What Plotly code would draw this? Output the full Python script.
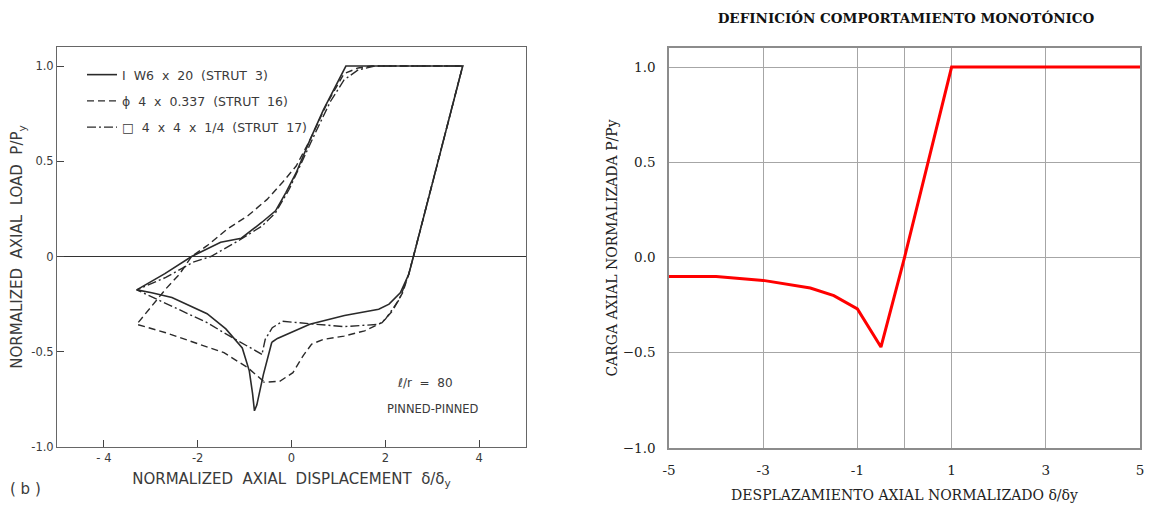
import plotly.graph_objects as go

W, H = 1149, 506

# ---------------- Left panel data (scanned hysteresis curves) ----------------
strut3_x = [-0.42, -0.60, -0.74, -0.79, -0.83, -0.90, -1.05, -1.40, -1.80, -2.55, -2.98, -3.30,
            -2.70, -2.13, -1.51, -1.07, -0.63, -0.34, -0.12, 0.10, 0.39, 0.68, 1.16, 3.65,
            2.60, 2.50, 2.32, 2.08, 1.86, 1.13, 0.39, -0.30, -0.42]
strut3_y = [-0.45, -0.62, -0.78, -0.81, -0.72, -0.60, -0.48, -0.38, -0.30, -0.215, -0.19, -0.175,
            -0.09, 0.00, 0.075, 0.096, 0.18, 0.24, 0.336, 0.44, 0.61, 0.77, 1.00, 1.00,
            0.00, -0.093, -0.19, -0.25, -0.277, -0.31, -0.356, -0.43, -0.45]

strut16_x = [-0.60, -0.93, -1.44, -2.10, -2.68, -3.30, -3.05, -2.68, -2.39, -2.13, -1.80, -1.37,
             -0.93, -0.52, -0.19, 0.10, 0.39, 0.76, 1.12, 1.42, 1.71, 3.65,
             2.60, 2.50, 2.37, 2.15, 1.93, 1.56, 1.12, 0.68, 0.43, 0.25, 0.03, -0.25, -0.60]
strut16_y = [-0.654, -0.584, -0.505, -0.45, -0.40, -0.356, -0.28, -0.17, -0.093, 0.00, 0.057, 0.144,
             0.214, 0.30, 0.39, 0.475, 0.61, 0.805, 0.96, 0.99, 1.00, 1.00,
             0.00, -0.093, -0.19, -0.286, -0.347, -0.39, -0.418, -0.435, -0.46, -0.52, -0.61, -0.655, -0.66]

strut17_x = [-0.63, -1.07, -1.44, -1.80, -2.54, -3.30, -2.68, -2.10, -1.72, -1.07, -0.63, -0.34,
             -0.05, 0.24, 0.54, 0.83, 1.12, 1.42, 1.78, 3.65,
             2.60, 2.50, 2.30, 2.00, 1.86, 1.12, 0.54, 0.10, -0.19, -0.41, -0.56, -0.63]
strut17_y = [-0.514, -0.453, -0.40, -0.347, -0.26, -0.175, -0.11, -0.03, 0.00, 0.092, 0.16, 0.23,
             0.353, 0.51, 0.666, 0.814, 0.927, 0.98, 1.00, 1.00,
             0.00, -0.093, -0.225, -0.33, -0.356, -0.368, -0.356, -0.344, -0.34, -0.374, -0.435, -0.514]

left_xticks = [-4, -2, 0, 2, 4]
left_xticktext = ["- 4", "-2", "0", "2", "4"]
left_yticks = [-1.0, -0.5, 0, 0.5, 1.0]
left_yticktext = ["-1.0", "-0.5", "0", "0.5", "1.0"]

legend_names = ["I  W6  x  20  (STRUT  3)", "ϕ  4  x  0.337  (STRUT  16)", "□  4  x  4  x  1/4  (STRUT  17)"]

# ---------------- Right panel data (monotonic definition) ----------------
mono_x = [-5, -4, -3, -2, -1.5, -1, -0.5, 0, 1, 5]
mono_y = [-0.10, -0.10, -0.12, -0.16, -0.20, -0.27, -0.47, 0.0, 1.0, 1.0]

right_xticks = [-5, -3, -1, 0, 1, 3, 5]
right_xticktext = ["-5", "-3", "-1", "", "1", "3", "5"]
right_yticks = [-1.0, -0.5, 0.0, 0.5, 1.0]

# ---------------- Figure ----------------
fig = go.Figure()

ink = "#2a2a2a"
fig.add_trace(go.Scatter(x=strut3_x, y=strut3_y, mode="lines", name=legend_names[0],
                         line=dict(color=ink, width=1.6, dash="solid"),
                         xaxis="x", yaxis="y", legendgroup="a"))
fig.add_trace(go.Scatter(x=strut16_x, y=strut16_y, mode="lines", name=legend_names[1],
                         line=dict(color=ink, width=1.4, dash="7px,4px"),
                         xaxis="x", yaxis="y", legendgroup="b"))
fig.add_trace(go.Scatter(x=strut17_x, y=strut17_y, mode="lines", name=legend_names[2],
                         line=dict(color=ink, width=1.4, dash="9px,3px,2px,3px"),
                         xaxis="x", yaxis="y", legendgroup="c"))

fig.add_trace(go.Scatter(x=mono_x, y=mono_y, mode="lines", showlegend=False,
                         line=dict(color="#ff0000", width=3),
                         xaxis="x2", yaxis="y2"))

sans = "DejaVu Sans, Liberation Sans, sans-serif"
serif = "DejaVu Serif, Liberation Serif, serif"
gtxt = "#3a3a3a"

ydom1 = [1 - 447 / H, 1 - 47 / H]
ydom2 = [1 - 448 / H, 1 - 48 / H]

fig.update_layout(
    width=W, height=H,
    margin=dict(l=0, r=0, t=0, b=0, autoexpand=False),
    paper_bgcolor="white", plot_bgcolor="white",
    showlegend=True,
    legend=dict(x=82 / W, y=1 - 60 / H, xanchor="left", yanchor="top",
                bgcolor="rgba(0,0,0,0)", font=dict(family=sans, size=12.5, color=gtxt),
                tracegroupgap=7, itemwidth=30),
    xaxis=dict(domain=[57 / W, 526 / W], range=[-5, 5], tickvals=left_xticks,
               ticktext=left_xticktext, ticks="inside", ticklen=7, tickcolor="#444",
               showgrid=False, zeroline=False, showline=True, linecolor="#666", linewidth=1,
               mirror=True, tickfont=dict(family=sans, size=11.5, color=gtxt), automargin=False,
               title=dict(text="NORMALIZED  AXIAL  DISPLACEMENT  δ/δ<sub>y</sub>",
                          font=dict(family=sans, size=15, color=gtxt), standoff=9),
               anchor="y", fixedrange=True),
    yaxis=dict(domain=ydom1, range=[-1, 1.1], tickvals=left_yticks, ticktext=left_yticktext,
               ticks="inside", ticklen=7, tickcolor="#444",
               showgrid=False, zeroline=True, zerolinecolor="#333", zerolinewidth=1,
               showline=True, linecolor="#666", linewidth=1, mirror=True, automargin=False,
               tickfont=dict(family=sans, size=11.5, color=gtxt),
               title=dict(text="NORMALIZED  AXIAL  LOAD  P/P<sub>y</sub>",
                          font=dict(family=sans, size=15, color=gtxt), standoff=4),
               anchor="x", fixedrange=True),
    xaxis2=dict(domain=[669 / W, 1140 / W], range=[-5, 5], tickvals=right_xticks,
                ticktext=right_xticktext, ticks="", showgrid=True, gridcolor="#a6a6a6",
                gridwidth=1, zeroline=False, showline=True, linecolor="#8c8c8c", linewidth=1.5,
                mirror=True, ticklabelstandoff=9, automargin=False,
                tickfont=dict(family=serif, size=13.5, color="#222"),
                title=dict(text="DESPLAZAMIENTO AXIAL NORMALIZADO δ/δy",
                           font=dict(family=serif, size=14, color="#222"), standoff=13),
                anchor="y2", fixedrange=True),
    yaxis2=dict(domain=ydom2, range=[-1, 1.1], tickvals=right_yticks, tickformat=".1f",
                ticks="", showgrid=True, gridcolor="#a6a6a6", gridwidth=1,
                zeroline=False, showline=True, linecolor="#8c8c8c", linewidth=1.5,
                mirror=True, ticklabelstandoff=9, automargin=False,
                tickfont=dict(family=serif, size=13.5, color="#222"),
                title=dict(text="CARGA AXIAL NORMALIZADA P/Py",
                           font=dict(family=serif, size=14, color="#222"), standoff=2),
                anchor="x2", fixedrange=True),
    title=dict(text="<b>DEFINICIÓN COMPORTAMIENTO MONOTÓNICO</b>", automargin=False,
               x=906 / W, xanchor="center", y=1 - 18 / H, yanchor="middle",
               font=dict(family=serif, size=13.5, color="#111")),
)

fig.add_annotation(text="ℓ/r  =  80", x=395 / W, y=1 - 383 / H, xref="paper", yref="paper",
                   xanchor="left", yanchor="middle", showarrow=False,
                   font=dict(family=sans, size=12, color=gtxt))
fig.add_annotation(text="PINNED-PINNED", x=385 / W, y=1 - 409 / H, xref="paper", yref="paper",
                   xanchor="left", yanchor="middle", showarrow=False,
                   font=dict(family=sans, size=11.5, color=gtxt))
fig.add_annotation(text="( b )", x=8 / W, y=1 - 489 / H, xref="paper", yref="paper",
                   xanchor="left", yanchor="middle", showarrow=False,
                   font=dict(family=sans, size=15, color=gtxt))

fig.write_html("out.html")
